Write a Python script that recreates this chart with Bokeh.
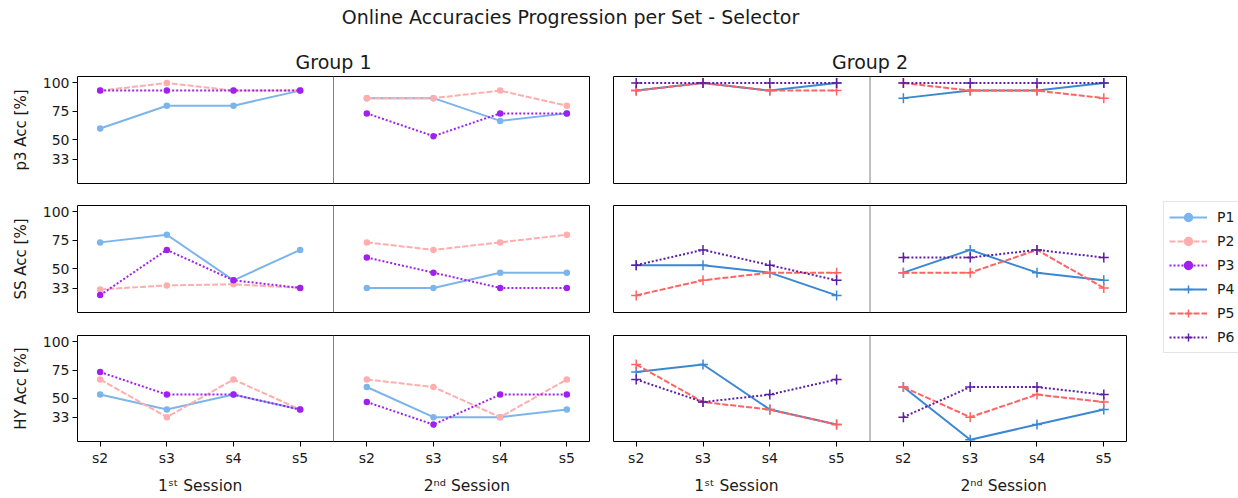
from bokeh.plotting import figure
from bokeh.models import (FixedTicker, Span, LinearAxis, Legend, LegendItem, Range1d)
from bokeh.layouts import column, row
from bokeh.embed import file_html
from bokeh.resources import INLINE

FONT = "DejaVu Sans"
TEXT = "#1a1a1a"

# ---------------- data ----------------
main_title = "Online Accuracies Progression per Set - Selector"
group_titles = ["Group 1", "Group 2"]
sets = ["s2", "s3", "s4", "s5"]
session_labels = ["1ˢᵗ Session", "2ⁿᵈ Session"]
metric_labels = ["p3 Acc [%]", "SS Acc [%]", "HY Acc [%]"]
y_ticks = [33, 50, 75, 100]
group1 = ["P1", "P2", "P3"]
group2 = ["P4", "P5", "P6"]

# values: 1st session s2..s5, then 2nd session s2..s5
p3_P1 = [60, 80, 80, 93.3, 86.7, 86.7, 66.7, 73.3]
p3_P2 = [93.3, 100, 93.3, 93.3, 86.7, 86.7, 93.3, 80]
p3_P3 = [93.3, 93.3, 93.3, 93.3, 73.3, 53.3, 73.3, 73.3]
p3_P4 = [93.3, 100, 93.3, 100, 86.7, 93.3, 93.3, 100]
p3_P5 = [93.3, 100, 93.3, 93.3, 100, 93.3, 93.3, 86.7]
p3_P6 = [100, 100, 100, 100, 100, 100, 100, 100]

ss_P1 = [73.3, 80, 40, 66.7, 33.3, 33.3, 46.7, 46.7]
ss_P2 = [32, 35.5, 36.5, 33.3, 73.3, 66.7, 73.3, 80]
ss_P3 = [27, 66.7, 40, 33.3, 60, 46.7, 33.3, 33.3]
ss_P4 = [53.3, 53.3, 46.7, 26.7, 46.7, 66.7, 46.7, 40]
ss_P5 = [26.7, 40, 46.7, 46.7, 46.7, 46.7, 66.7, 33.3]
ss_P6 = [53.3, 66.7, 53.3, 40, 60, 60, 66.7, 60]

hy_P1 = [53.3, 40, 53.3, 40, 60, 33.3, 33.3, 40]
hy_P2 = [66.7, 33.3, 66.7, 40, 66.7, 60, 33.3, 66.7]
hy_P3 = [73.3, 53.3, 53.3, 40, 46.7, 26.7, 53.3, 53.3]
hy_P4 = [73.3, 80, 40, 26.7, 60, 13.3, 26.7, 40]
hy_P5 = [80, 46.7, 40, 26.7, 60, 33.3, 53.3, 46.7]
hy_P6 = [66.7, 46.7, 53.3, 66.7, 33.3, 60, 60, 53.3]

rows_data = [
    {"P1": p3_P1, "P2": p3_P2, "P3": p3_P3, "P4": p3_P4, "P5": p3_P5, "P6": p3_P6},
    {"P1": ss_P1, "P2": ss_P2, "P3": ss_P3, "P4": ss_P4, "P5": ss_P5, "P6": ss_P6},
    {"P1": hy_P1, "P2": hy_P2, "P3": hy_P3, "P4": hy_P4, "P5": hy_P5, "P6": hy_P6},
]

# ---------------- styles ----------------
styles = {
    "P1": dict(color="#7cb5ec", dash="solid", marker="circle", size=5),
    "P2": dict(color="#ffadad", dash="6 2", marker="circle", size=5),
    "P3": dict(color="#a020f0", dash="2 2", marker="circle", size=5),
    "P4": dict(color="#3a88d2", dash="solid", marker="cross", size=10),
    "P5": dict(color="#ff6363", dash="6 2", marker="cross", size=10),
    "P6": dict(color="#5c1fa3", dash="2 2", marker="cross", size=10),
}

TICK_FS = "14px"
LABEL_FS = "15px"
TITLE_FS = "19px"

n_sets = len(sets)
xs = list(range(2 * n_sets))
tick_overrides = {i: sets[i % n_sets] for i in xs}
session_pos = [(n_sets - 1) / 2 + k * n_sets for k in range(2)]
session_overrides = {session_pos[k]: session_labels[k] for k in range(2)}
divider = n_sets - 0.5


def make_panel(r, g):
    is_left = g == 0
    is_top = r == 0
    is_bottom = r == 2
    frame_w = 512 if is_left else 513
    left = 77 if is_left else 12
    right = 12 if is_left else 4
    top = 38 if is_top else 11
    bottom = 55 if is_bottom else (11 if is_top else 12)
    frame_h = 107
    kw = dict(
        width=left + frame_w + right, height=top + frame_h + bottom,
        output_backend="svg", toolbar_location=None,
        x_range=Range1d(-0.34, 2 * n_sets - 1 + 0.34),
        y_range=Range1d(11.7, 105.7),
        x_axis_location="below" if is_bottom else None,
        y_axis_location="left" if is_left else None,
        min_border_left=left, min_border_right=right,
        min_border_top=top, min_border_bottom=bottom,
    )
    if is_top:
        kw["title"] = group_titles[g]
    p = figure(**kw)
    p.background_fill_color = "white"
    p.border_fill_color = "white"
    p.outline_line_color = "black"
    p.outline_line_width = 1
    p.outline_line_alpha = 1
    p.xgrid.visible = False
    p.ygrid.visible = False
    if is_top:
        p.title.align = "center"
        p.title.text_font = FONT
        p.title.text_font_size = TITLE_FS
        p.title.text_font_style = "normal"
        p.title.text_color = TEXT
        p.title.standoff = 7
    if is_left:
        ya = p.yaxis[0]
        ya.ticker = FixedTicker(ticks=y_ticks, minor_ticks=[])
        ya.axis_label = metric_labels[r]
        ya.axis_label_text_font = FONT
        ya.axis_label_text_font_size = LABEL_FS
        ya.axis_label_text_font_style = "normal"
        ya.axis_label_text_color = TEXT
        ya.axis_label_standoff = 10
        ya.major_label_text_font = FONT
        ya.major_label_text_font_size = TICK_FS
        ya.major_label_text_color = TEXT
        ya.major_label_standoff = 3
        ya.major_tick_out = 5
        ya.major_tick_in = 0
        ya.major_tick_line_color = "black"
        ya.minor_tick_line_color = None
        ya.axis_line_color = None
    if is_bottom:
        xa = p.xaxis[0]
        xa.ticker = FixedTicker(ticks=xs, minor_ticks=[])
        xa.major_label_overrides = tick_overrides
        xa.major_label_text_font = FONT
        xa.major_label_text_font_size = TICK_FS
        xa.major_label_text_color = TEXT
        xa.major_label_standoff = 3
        xa.major_tick_out = 5
        xa.major_tick_in = 0
        xa.major_tick_line_color = "black"
        xa.minor_tick_line_color = None
        xa.axis_line_color = None
        sa = LinearAxis(ticker=FixedTicker(ticks=session_pos, minor_ticks=[]),
                        major_label_overrides=session_overrides)
        sa.major_label_text_font = FONT
        sa.major_label_text_font_size = "15.5px"
        sa.major_label_text_color = TEXT
        sa.major_label_standoff = 2
        sa.major_tick_line_color = None
        sa.minor_tick_line_color = None
        sa.axis_line_color = None
        p.add_layout(sa, "below")

    p.add_layout(Span(location=divider, dimension="height",
                      line_color="#808080", line_width=1))

    names = group1 if is_left else group2
    for name in names:
        st = styles[name]
        vals = rows_data[r][name]
        # one separate line per session (no segment across the divider)
        for k in range(2):
            sx = xs[k * n_sets:(k + 1) * n_sets]
            sy = vals[k * n_sets:(k + 1) * n_sets]
            p.line(sx, sy, line_color=st["color"], line_width=2,
                   line_dash=st["dash"])
        p.scatter(xs, vals, marker=st["marker"], size=st["size"],
                  fill_color=st["color"], line_color=st["color"],
                  line_width=1.5)
    return p


panels = [[make_panel(r, g) for g in range(2)] for r in range(3)]

# title figure
tf = figure(width=1140, height=38, output_backend="svg", toolbar_location=None,
            x_axis_location=None, y_axis_location=None, title=main_title,
            min_border_left=0, min_border_right=0, min_border_top=28,
            min_border_bottom=0, x_range=Range1d(0, 1), y_range=Range1d(0, 1))
tf.outline_line_color = None
tf.xgrid.visible = False
tf.ygrid.visible = False
tf.title.align = "center"
tf.title.text_font = FONT
tf.title.text_font_size = TITLE_FS
tf.title.text_font_style = "normal"
tf.title.text_color = TEXT
tf.title.standoff = 2

# legend figure
nan = float("nan")
lf = figure(width=108, height=452, output_backend="svg", toolbar_location=None,
            x_axis_location=None, y_axis_location=None,
            min_border_left=0, min_border_right=0, min_border_top=0,
            min_border_bottom=0, x_range=Range1d(0, 1), y_range=Range1d(0, 1))
lf.outline_line_color = None
lf.xgrid.visible = False
lf.ygrid.visible = False
items = []
for name in group1 + group2:
    st = styles[name]
    lr = lf.line(x=[nan], y=[nan], line_color=st["color"], line_width=2,
                 line_dash=st["dash"])
    sr = lf.scatter(x=[nan], y=[nan], marker=st["marker"], size=st["size"],
                    fill_color=st["color"], line_color=st["color"],
                    line_width=1.5)
    items.append(LegendItem(label=name, renderers=[lr, sr]))
legend = Legend(items=items, location=(33, 137))
legend.label_text_font = FONT
legend.label_text_font_size = TICK_FS
legend.label_text_color = TEXT
legend.border_line_color = "#cccccc"
legend.border_line_width = 1
legend.background_fill_color = "white"
legend.background_fill_alpha = 1
legend.glyph_width = 38
legend.glyph_height = 20
legend.label_height = 20
legend.spacing = 4
legend.padding = 5
legend.label_standoff = 10
legend.margin = 0
lf.add_layout(legend)

grid_col = column(row(panels[0][0], panels[0][1]),
                  row(panels[1][0], panels[1][1]),
                  row(panels[2][0], panels[2][1]))
layout = column(tf, row(grid_col, lf))

open("out.html", "w").write(file_html(layout, INLINE))
